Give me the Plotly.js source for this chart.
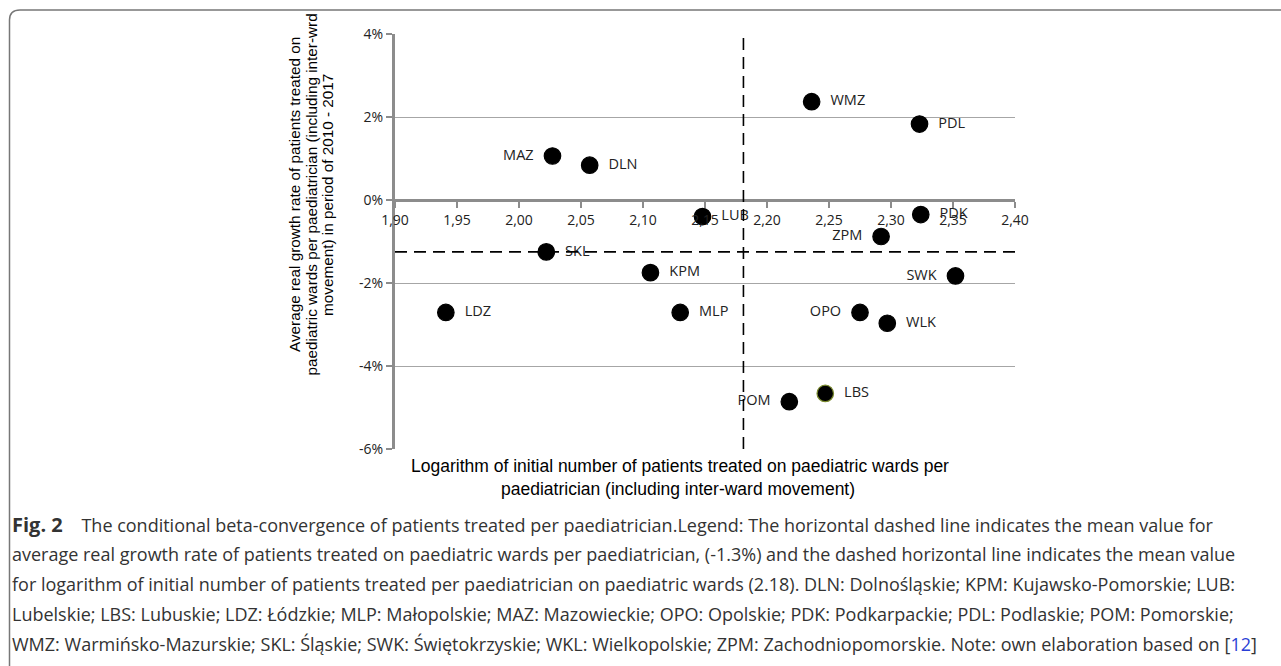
<!DOCTYPE html>
<html>
<head>
<meta charset="utf-8">
<script src="https://cdn.plot.ly/plotly-3.0.1.min.js"></script>
<style>html,body{margin:0;padding:0;background:#fff;}#chart{width:1281px;height:666px;}</style>
</head>
<body>
<div id="chart"></div>
<script>
// Regions (voivodeship codes)
const regions = ["MAZ","DLN","WMZ","PDL","LUB","PDK","ZPM","SKL","KPM","LDZ","MLP","SWK","OPO","WLK","POM","LBS"];
// Logarithm of initial number of patients per paediatrician
const logInitial = [2.027,2.057,2.236,2.323,2.148,2.324,2.292,2.022,2.106,1.941,2.130,2.352,2.275,2.297,2.218,2.247];
// Average real growth rate (%)
const growthRate = [1.06,0.84,2.37,1.83,-0.40,-0.35,-0.88,-1.25,-1.75,-2.71,-2.71,-1.83,-2.71,-2.97,-4.86,-4.66];
// Label side for each point
const labelSide = ["L","R","R","R","R","R","L","R","R","R","R","L","L","R","L","R"];
// Mean values
const meanGrowth = -1.25;
const meanLog = 2.181;
const xTicks = [1.90,1.95,2.00,2.05,2.10,2.15,2.20,2.25,2.30,2.35,2.40];
const xTickText = ["1,90","1,95","2,00","2,05","2,10","2,15","2,20","2,25","2,30","2,35","2,40"];
const yTicks = [-6,-4,-2,0,2,4];
const yTickText = ["-6%","-4%","-2%","0%","2%","4%"];

// layout geometry (pixels)
const W=1281,H=666,L=395,R=1015,T=34,B=449;
const px=x=>(x-L)/(R-L), py=y=>(B-y)/(B-T);

const nb='\u00a0';
const labels = regions.map((r,i)=> labelSide[i]==="R" ? nb+nb+r : r+nb+nb);
const positions = labelSide.map(s=> s==="R" ? "middle right" : "middle left");
const lineColors = regions.map(r=> r==="LBS" ? "#7a8a2e" : "#000000");

const trace = {
  x: logInitial, y: growthRate, text: labels, type:"scatter", mode:"markers+text",
  textposition: positions,
  textfont:{family:"Open Sans, sans-serif", size:14.5, color:"#222"},
  marker:{size:16.5, color:"#000", line:{color:lineColors, width:1.2}},
  cliponaxis:false, hoverinfo:"x+y+text", showlegend:false
};

const captionLines = [
  "<span style=\"font-size:20px\"><b>Fig. 2</b></span>"+nb+nb+nb+nb+"The conditional beta-convergence of patients treated per paediatrician.Legend: The horizontal dashed line indicates the mean value for",
  "average real growth rate of patients treated on paediatric wards per paediatrician, (-1.3%) and the dashed horizontal line indicates the mean value",
  "for logarithm of initial number of patients treated per paediatrician on paediatric wards (2.18). DLN: Dolnośląskie; KPM: Kujawsko-Pomorskie; LUB:",
  "Lubelskie; LBS: Lubuskie; LDZ: Łódzkie; MLP: Małopolskie; MAZ: Mazowieckie; OPO: Opolskie; PDK: Podkarpackie; PDL: Podlaskie; POM: Pomorskie;",
  "WMZ: Warmińsko-Mazurskie; SKL: Śląskie; SWK: Świętokrzyskie; WKL: Wielkopolskie; ZPM: Zachodniopomorskie. Note: own elaboration based on [<span style=\"color:#2a3fd6\">12</span>]"
];
const captionY = [524,554,584,614,644];

const annotations = [];
captionLines.forEach((t,i)=>annotations.push({
  text:t, xref:"paper", yref:"paper", x:px(10), y:py(captionY[i]), xanchor:"left", yanchor:"middle",
  showarrow:false, font:{family:"Open Sans, sans-serif", size:18, color:"#333"}
}));
annotations.push({text:"Logarithm of initial number of patients treated on paediatric wards per", xref:"paper", yref:"paper",
  x:px(680), y:py(466), xanchor:"center", yanchor:"middle", showarrow:false,
  font:{family:"Liberation Sans, Arial, sans-serif", size:17.5, color:"#000"}});
annotations.push({text:"paediatrician (including inter-ward movement)", xref:"paper", yref:"paper",
  x:px(678), y:py(489), xanchor:"center", yanchor:"middle", showarrow:false,
  font:{family:"Liberation Sans, Arial, sans-serif", size:17.5, color:"#000"}});
const yTitleLines = ["Average real growth rate of patients treated on","paediatric wards per paediatrician (including inter-wrd","movement) in period of 2010 - 2017"];
const yTitleX = [294,310.5,327];
yTitleLines.forEach((t,i)=>annotations.push({text:t, xref:"paper", yref:"paper", x:px(yTitleX[i]), y:py(195),
  xanchor:"center", yanchor:"middle", textangle:-90, showarrow:false,
  font:{family:"Liberation Sans, Arial, sans-serif", size:15.3, color:"#000"}}));

const shapes = [
  {type:"line", xref:"paper", yref:"y", x0:0, x1:1, y0:meanGrowth, y1:meanGrowth, line:{color:"#000", width:1.6, dash:"12px,7px"}},
  {type:"line", xref:"x", yref:"paper", x0:meanLog, x1:meanLog, y0:0, y1:1, line:{color:"#000", width:1.6, dash:"12px,7px"}},
  {type:"path", xref:"paper", yref:"paper", path:`M ${px(1281)} ${py(10)} L ${px(20)} ${py(10)} Q ${px(9.5)} ${py(10)} ${px(9.5)} ${py(20)} L ${px(9.5)} ${py(666)}`,
   line:{color:"#777", width:1.5}}
];

const layout = {
  width:W, height:H, margin:{l:L, r:W-R, t:T, b:H-B, pad:0},
  paper_bgcolor:"#fff", plot_bgcolor:"#fff",
  showlegend:false,
  xaxis:{range:[1.90,2.40], tickvals:xTicks, ticktext:xTickText, anchor:"free", position:py(200),
    showline:true, linecolor:"#8c8c8c", linewidth:3, ticks:"outside", ticklen:6, tickwidth:2, tickcolor:"#8c8c8c",
    showgrid:false, zeroline:false, tickfont:{family:"Open Sans, sans-serif", size:14, color:"#222"}},
  yaxis:{range:[-6,4], tickvals:yTicks, ticktext:yTickText, showline:true, linecolor:"#8c8c8c", linewidth:3,
    ticks:"outside", ticklen:6, tickwidth:2, tickcolor:"#8c8c8c", showgrid:true, gridcolor:"#a6a6a6", gridwidth:1,
    zeroline:false, tickfont:{family:"Open Sans, sans-serif", size:14, color:"#222"}},
  annotations, shapes
};

Plotly.newPlot("chart",[trace],layout,{displayModeBar:false, staticPlot:true});
</script>
</body>
</html>
